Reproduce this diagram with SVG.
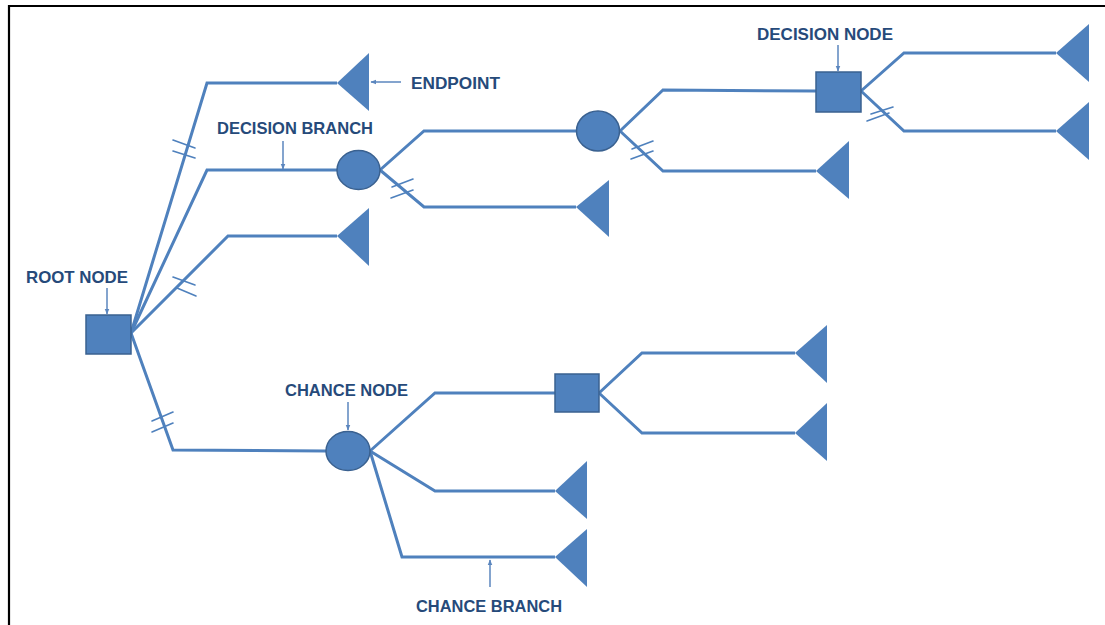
<svg xmlns="http://www.w3.org/2000/svg" width="1105" height="625" viewBox="0 0 1105 625">
  <style>
    .branch { fill: none; stroke: #4F81BD; stroke-width: 3; stroke-linejoin: miter; }
    .hash { stroke: #4F81BD; stroke-width: 1.6; stroke-linecap: round; }
    .node { fill: #4F81BD; stroke: #3A6190; stroke-width: 1.5; }
    .end { fill: #4F81BD; stroke: none; }
    .callout { stroke: #5B86BE; stroke-width: 1.5; fill: none; }
    .label { font-family: "Liberation Sans", Arial, sans-serif; font-weight: bold; font-size: 16.5px; fill: #264A7A; }
  </style>
  <defs>
    <marker id="tip" viewBox="0 0 10 10" refX="9" refY="5" markerWidth="4" markerHeight="4" orient="auto">
      <path d="M0,1 L10,5 L0,9 Z" fill="#5B86BE"/>
    </marker>
  </defs>

  <rect width="1105" height="625" fill="#ffffff"/>
  <!-- frame -->
  <path d="M8,6 H1105 M9,5 V625" stroke="#000" stroke-width="2.2" fill="none"/>

  <g id="connectors">
    <polyline class="branch" points="131,333 207,83 337,83"/>
    <polyline class="branch" points="131,333 207,170 337,170"/>
    <polyline class="branch" points="131,333 228,236 337,236"/>
    <polyline class="branch" points="131,333 173,450 326,451"/>
    <polyline class="branch" points="380,170 424,131 576,131"/>
    <polyline class="branch" points="380,170 424,207 576,207"/>
    <polyline class="branch" points="620,131 663,90 816,91"/>
    <polyline class="branch" points="620,131 663,171 816,171"/>
    <polyline class="branch" points="861,91 904,53 1056,53"/>
    <polyline class="branch" points="861,91 904,131 1056,131"/>
    <polyline class="branch" points="370,451 435,393 555,393"/>
    <polyline class="branch" points="370,451 435,491 555,491"/>
    <polyline class="branch" points="370,451 402,557 555,557"/>
    <polyline class="branch" points="599,393 642,353 795,353"/>
    <polyline class="branch" points="599,393 642,433 795,433"/>
    <!-- pruned-branch hash marks -->
    <path class="hash" d="M173,140 L195,148 M173,151 L195,158"/>
    <path class="hash" d="M173,277 L195,285 M177,288 L196,296"/>
    <path class="hash" d="M152,421 L173,412 M152,432 L173,423"/>
    <path class="hash" d="M392,187 L413,179 M391,198 L413,190"/>
    <path class="hash" d="M632,149 L653,141 M631,159 L653,151"/>
    <path class="hash" d="M871,114 L893,107 M867,121 L889,113"/>
  </g>

  <g id="root-node">
    <rect class="node" x="86" y="315" width="45" height="39"/>
  </g>
  <g id="chance-1">
    <ellipse class="node" cx="358.5" cy="170" rx="21.5" ry="19.5"/>
  </g>
  <g id="chance-2">
    <ellipse class="node" cx="598" cy="131" rx="21.5" ry="20"/>
  </g>
  <g id="decision-1">
    <rect class="node" x="816" y="72" width="45" height="40"/>
  </g>
  <g id="chance-3">
    <ellipse class="node" cx="348" cy="451" rx="22" ry="19.5"/>
  </g>
  <g id="decision-2">
    <rect class="node" x="555" y="374" width="44" height="38"/>
  </g>

  <g id="endpoints">
    <polygon class="end" points="337,83 369,53 369,111"/>
    <polygon class="end" points="337,236 369,208 369,266"/>
    <polygon class="end" points="576,207 609,180 609,237"/>
    <polygon class="end" points="816,171 849,141 849,199"/>
    <polygon class="end" points="1056,53 1089,24 1089,82"/>
    <polygon class="end" points="1056,131 1089,102 1089,160"/>
    <polygon class="end" points="795,353 827,325 827,383"/>
    <polygon class="end" points="795,433 827,403 827,461"/>
    <polygon class="end" points="555,491 587,461 587,519"/>
    <polygon class="end" points="555,557 587,529 587,587"/>
  </g>

  <g id="labels">
    <text class="label" x="26" y="283" textLength="102" lengthAdjust="spacingAndGlyphs">ROOT NODE</text>
    <line class="callout" x1="107" y1="288" x2="107" y2="314" marker-end="url(#tip)"/>

    <text class="label" x="217" y="134" textLength="156" lengthAdjust="spacingAndGlyphs">DECISION BRANCH</text>
    <line class="callout" x1="283" y1="141" x2="283" y2="169" marker-end="url(#tip)"/>

    <text class="label" x="411" y="89" textLength="89" lengthAdjust="spacingAndGlyphs">ENDPOINT</text>
    <line class="callout" x1="401" y1="82" x2="371" y2="82" marker-end="url(#tip)"/>

    <text class="label" x="757" y="40" textLength="136" lengthAdjust="spacingAndGlyphs">DECISION NODE</text>
    <line class="callout" x1="838" y1="45" x2="838" y2="71" marker-end="url(#tip)"/>

    <text class="label" x="285" y="396" textLength="123" lengthAdjust="spacingAndGlyphs">CHANCE NODE</text>
    <line class="callout" x1="348" y1="402" x2="348" y2="430" marker-end="url(#tip)"/>

    <text class="label" x="416" y="612" textLength="146" lengthAdjust="spacingAndGlyphs">CHANCE BRANCH</text>
    <line class="callout" x1="490" y1="587" x2="490" y2="560" marker-end="url(#tip)"/>
  </g>
</svg>
